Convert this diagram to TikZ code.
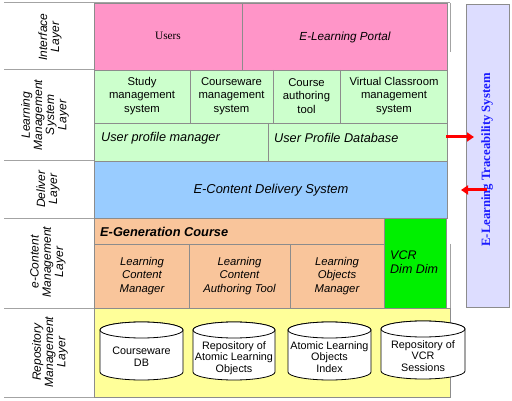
\documentclass[tikz,border=0pt]{standalone}
\usepackage{fontspec}
\setmainfont{Liberation Sans}
\newfontfamily\tms{Liberation Serif}
\usetikzlibrary{arrows.meta}
\definecolor{pinkc}{HTML}{FF95C8}
\definecolor{lgreen}{HTML}{CCFFCC}
\definecolor{lblue}{HTML}{99CCFF}
\definecolor{peach}{HTML}{F9C59B}
\definecolor{vgreen}{HTML}{00F000}
\definecolor{lyellow}{HTML}{FFFF99}
\definecolor{lav}{HTML}{DDDDFF}
\definecolor{tblue}{HTML}{1A1AFF}
\definecolor{arrred}{HTML}{FF0000}
\definecolor{bord}{HTML}{8C8C8C}
\tikzset{
  box/.style={draw=bord, line width=0.6pt},
  sepline/.style={draw=bord!80, line width=1pt},
  txt/.style={align=center, inner sep=0pt, font=\fontsize{11.3}{13.3}\selectfont},
  itxt/.style={inner sep=0pt, font=\fontsize{12.7}{14}\selectfont\itshape},
  lbl/.style={rotate=90, align=center, inner sep=0pt, font=\fontsize{12}{12.2}\selectfont\itshape},
  cyltxt/.style={align=center, inner sep=0pt, font=\fontsize{10.8}{11.7}\selectfont},
  cylst/.style={draw=black, fill=white, line width=0.8pt},
  redarrow/.style={draw=arrred, line width=3pt, -{Triangle[length=7pt,width=9pt]}}
}
\begin{document}
\begin{tikzpicture}[x=1pt,y=1pt]
\useasboundingbox (0,0) rectangle (512,-401);
\fill[white] (0,0) rectangle (512,-401);

% separator lines of the left column
\draw[sepline] (4,-3) -- (450,-3);
\draw[sepline] (4,-70) -- (94,-70);
\draw[sepline] (4,-161) -- (94,-161);
\draw[sepline] (4,-219) -- (94,-219);
\draw[sepline] (4,-308) -- (94,-308);
\draw[sepline] (4,-397) -- (450,-397);
\draw[sepline] (450,-3) -- (450,-52);
\draw[sepline] (450,-244) -- (450,-397);

% Interface layer
\filldraw[box, fill=pinkc] (94,-3) rectangle (447,-70);
\draw[box] (242,-3) -- (242,-70);
\node[txt] (users) at (168,-36) {\tms Users};
\node[itxt, font=\fontsize{11.7}{13}\selectfont\itshape] (portal) at (345,-37) {E-Learning Portal};

% LMS layer
\filldraw[box, fill=lgreen] (94,-70) rectangle (447,-161);
\draw[box] (94,-123) -- (447,-123);
\draw[box] (190,-70) -- (190,-123);
\draw[box] (273,-70) -- (273,-123);
\draw[box] (340,-70) -- (340,-123);
\draw[box] (268,-123) -- (268,-161);
\node[txt] (study) at (142,-96) {Study\\management\\system};
\node[txt] (cware) at (231.5,-96) {Courseware\\management\\system};
\node[txt] (cauth) at (306.5,-96) {Course\\authoring\\tool};
\node[txt] (vclass) at (394,-96) {Virtual Classroom\\management\\system};
\node[itxt, anchor=west] (upm) at (101,-138) {User profile manager};
\node[itxt, anchor=west] (updb) at (274,-138) {User Profile Database};

% Deliver layer
\filldraw[box, fill=lblue] (94,-161) rectangle (447,-218);
\node[itxt, font=\fontsize{12.9}{14}\selectfont\itshape] (ecds) at (271,-190) {E-Content Delivery System};

% e-Content management layer
\filldraw[box, fill=peach] (94,-218) rectangle (384,-308);
\draw[box] (94,-244) -- (384,-244);
\draw[box] (189,-244) -- (189,-308);
\draw[box] (290,-244) -- (290,-308);
\node[itxt, anchor=west, font=\fontsize{12.8}{14}\selectfont\bfseries\itshape] (egen) at (100,-232) {E-Generation Course};
\node[txt, font=\fontsize{11.3}{13.3}\selectfont\itshape] (lcm) at (142,-276) {Learning\\Content\\Manager};
\node[txt, font=\fontsize{11.3}{13.3}\selectfont\itshape] (lcat) at (239.5,-276) {Learning\\Content\\Authoring Tool};
\node[txt, font=\fontsize{11.3}{13.3}\selectfont\itshape] (lom) at (337,-276) {Learning\\Objects\\Manager};
\filldraw[box, fill=vgreen] (384,-218) rectangle (446,-308);
\node[txt, align=left, anchor=north west, font=\fontsize{12.5}{14}\selectfont\itshape] (vcr) at (390,-251) {VCR\\Dim Dim};

% Repository layer
\filldraw[box, fill=lyellow] (94,-308) rectangle (450,-397);
% cylinder 1
\filldraw[cylst] (100,-330) -- (100,-372) arc[start angle=180,end angle=360,x radius=41.5,y radius=8] -- (183,-330) arc[start angle=0,end angle=180,x radius=41.5,y radius=8] -- cycle;
\draw[cylst] (141.5,-330) ellipse [x radius=41.5, y radius=8];
\node[cyltxt] (cdb) at (141.5,-357) {Courseware\\DB};
% cylinder 2
\filldraw[cylst] (193,-330) -- (193,-372) arc[start angle=180,end angle=360,x radius=41,y radius=8] -- (275,-330) arc[start angle=0,end angle=180,x radius=41,y radius=8] -- cycle;
\draw[cylst] (234,-330) ellipse [x radius=41, y radius=8];
\node[cyltxt] (ralo) at (234,-358) {Repository of\\Atomic Learning\\Objects};
% cylinder 3
\filldraw[cylst] (288,-330) -- (288,-372) arc[start angle=180,end angle=360,x radius=41.5,y radius=8] -- (371,-330) arc[start angle=0,end angle=180,x radius=41.5,y radius=8] -- cycle;
\draw[cylst] (329.5,-330) ellipse [x radius=41.5, y radius=8];
\node[cyltxt] (aloi) at (329.5,-357) {Atomic Learning\\Objects\\Index};
% cylinder 4
\filldraw[cylst] (381,-329) -- (381,-371) arc[start angle=180,end angle=360,x radius=42,y radius=8] -- (465,-329) arc[start angle=0,end angle=180,x radius=42,y radius=8] -- cycle;
\draw[cylst] (423,-329) ellipse [x radius=42, y radius=8];
\node[cyltxt] (rvcr) at (423,-356) {Repository of\\VCR\\Sessions};

% left labels
\node[lbl] (l1) at (50,-37) {Interface\\Layer};
\node[lbl] (l2) at (45,-115) {Learning\\Management\\System\\Layer};
\node[lbl] (l3) at (48,-189) {Deliver\\Layer};
\node[lbl] (l4) at (48,-262) {e-Content\\Management\\Layer};
\node[lbl] (l5) at (50,-352) {Repository\\Management\\Layer};

% traceability system
\filldraw[box, fill=lav] (466,-4) rectangle (509,-307);
\node[rotate=90, inner sep=0pt, text=tblue, font=\tms\fontsize{12.7}{14}\selectfont\bfseries] (trace) at (487,-160) {E-Learning Traceability System};

% arrows
\coordinate (a1s) at (446,-137);
\coordinate (a1e) at (474,-137);
\coordinate (a2s) at (487,-190);
\coordinate (a2e) at (461,-190);
\draw[redarrow] (a1s) -- (a1e);
\draw[redarrow] (a2s) -- (a2e);
\end{tikzpicture}
\end{document}
